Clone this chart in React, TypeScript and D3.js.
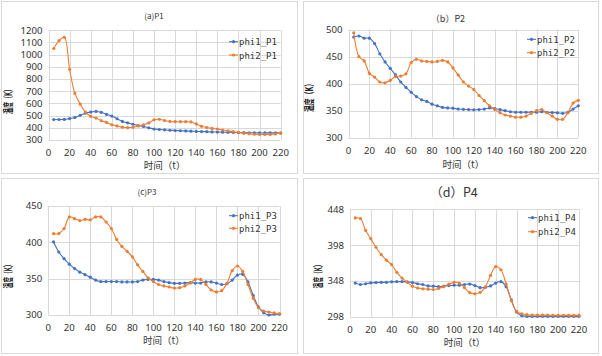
import React from "react";
import * as d3 from "d3";

const times = [5, 10, 15, 20, 25, 30, 35, 40, 45, 50, 55, 60, 65, 70, 75, 80, 85, 90, 95, 100, 105, 110, 115, 120, 125, 130, 135, 140, 145, 150, 155, 160, 165, 170, 175, 180, 185, 190, 195, 200, 205, 210, 215, 220];
const xTicks = [0, 20, 40, 60, 80, 100, 120, 140, 160, 180, 200, 220];

const p1Phi1 = [468, 468, 469, 476, 485, 502, 520, 529, 534, 527, 510, 496, 474, 452, 441, 429, 418, 411, 400, 390, 386, 383, 380, 378, 376, 374, 372, 370, 369, 368, 366, 365, 364, 363, 362, 361, 360, 359, 359, 358, 358, 358, 358, 357];
const p1Phi2 = [1050, 1115, 1142, 880, 682, 595, 528, 494, 480, 458, 444, 425, 415, 405, 402, 404, 415, 425, 440, 466, 470, 460, 452, 450, 450, 450, 448, 432, 412, 402, 395, 390, 382, 375, 368, 362, 355, 352, 347, 345, 345, 346, 350, 357];
const p1Ticks = [300, 400, 500, 600, 700, 800, 900, 1000, 1100, 1200];

const p2Phi1 = [486, 488, 484, 484, 474, 455, 440, 428, 416, 403, 393, 384, 376, 370, 367, 362, 359, 356, 355, 354.5, 353, 352.5, 352, 351.5, 352, 353, 355, 354, 352, 350, 348, 347, 347, 347, 347, 347, 348, 347, 346.5, 346, 345, 347, 353, 359];
const p2Phi2 = [494, 450, 442, 419, 412, 403, 401.5, 406, 413, 414, 418, 439, 445, 442, 441, 440, 441, 443, 440, 429, 416, 403, 395.5, 389, 378, 368.5, 359, 352, 346, 342, 340, 338, 338, 340, 345, 350, 352, 346, 340, 334, 334, 346, 364, 369];
const p2Ticks = [300, 350, 400, 450, 500];

const p3Phi1 = [400.5, 386.7, 377.5, 370, 364, 359, 355.5, 352, 348, 346, 346, 346, 346, 345.5, 345.5, 345.5, 346, 348, 349, 349, 348, 346, 344.5, 343.6, 343.6, 344, 344.5, 344, 344, 345.5, 345.5, 344, 342, 343, 348, 355, 356, 345.5, 327, 311, 303, 300, 301, 301];
const p3Phi2 = [412, 412, 419, 435, 432.6, 430, 431.6, 431, 435, 435, 428, 419, 404, 394.5, 387.6, 380, 369, 360, 351, 346, 342, 340, 338.5, 337, 337.6, 340, 344, 349, 349, 342, 334.4, 331.7, 333.5, 343.6, 361, 367.4, 360, 342, 323, 310, 305.5, 304, 302.8, 302];
const p3Ticks = [300, 350, 400, 450];

const p4Phi1 = [345, 343, 344, 345.3, 345.7, 346, 346, 346.7, 347, 347, 346.7, 345.7, 344, 343, 341, 340.6, 340, 340.6, 341.5, 342, 342, 343, 343.5, 341.5, 338.6, 339, 341, 345, 347, 340, 321.4, 304.6, 299.4, 298.5, 298.5, 298.5, 298.5, 298.5, 298.5, 298.5, 298.5, 298.5, 298.5, 298.5];
const p4Phi2 = [436, 435, 418.5, 407, 395, 384.7, 377, 370.7, 360, 352, 346, 340.6, 338, 337, 336.5, 336, 337.4, 340, 343.5, 346, 345, 338.6, 331.7, 330, 332, 339.7, 355.7, 368, 363.6, 343.5, 320.5, 305.5, 302, 300.8, 300.3, 300.3, 300.2, 300.2, 300, 300, 300, 299.8, 299.8, 299.8];
const p4Ticks = [298, 348, 398, 448];

const BLUE = "#4472C4";
const ORANGE = "#ED7D31";
const GRID = "#d9d9d9";
const TEXT = "#333333";
const CJK = "'Noto Sans CJK SC', 'Noto Sans', sans-serif";
const MONO = "'DejaVu Sans Mono', 'Liberation Mono', monospace";

type Panel = {
  box: [number, number, number, number];
  title: string;
  titleX: number;
  titleY: number;
  titleSize: number;
  plot: [number, number, number, number];
  yTicks: number[];
  s1: number[];
  s2: number[];
  n1: string;
  n2: string;
  legX: number;
  legY: [number, number];
  xLabY: number;
  xTitleY: number;
  yTitleX: number;
  yTitleY: number;
  yTitleLen: number;
};

const panels: Panel[] = [
  {
    box: [1.5, 1.5, 296, 172], title: "(a)P1", titleX: 154, titleY: 19, titleSize: 8,
    plot: [48.5, 280.7, 30.2, 140], yTicks: p1Ticks, s1: p1Phi1, s2: p1Phi2, n1: "phi1_P1", n2: "phi2_P1",
    legX: 229, legY: [41.7, 55], xLabY: 156, xTitleY: 169, yTitleX: 8.5, yTitleY: 100, yTitleLen: 28,
  },
  {
    box: [303.5, 1.5, 295, 172], title: "（b）P2", titleX: 448, titleY: 22, titleSize: 9,
    plot: [348.5, 578.3, 29.5, 137.7], yTicks: p2Ticks, s1: p2Phi1, s2: p2Phi2, n1: "phi1_P2", n2: "phi2_P2",
    legX: 527, legY: [39.3, 52.7], xLabY: 154, xTitleY: 167.5, yTitleX: 309, yTitleY: 96, yTitleLen: 32,
  },
  {
    box: [1.5, 178.5, 296, 175], title: "(c)P3", titleX: 147, titleY: 195, titleSize: 8,
    plot: [48.3, 279.5, 206, 315], yTicks: p3Ticks, s1: p3Phi1, s2: p3Phi2, n1: "phi1_P3", n2: "phi2_P3",
    legX: 229, legY: [215.7, 228.3], xLabY: 330.5, xTitleY: 344, yTitleX: 8.5, yTitleY: 275, yTitleLen: 27,
  },
  {
    box: [303.5, 178.5, 295, 175], title: "（d）P4", titleX: 454, titleY: 197, titleSize: 12.5,
    plot: [350, 579, 209.3, 316.7], yTicks: p4Ticks, s1: p4Phi1, s2: p4Phi2, n1: "phi1_P4", n2: "phi2_P4",
    legX: 528, legY: [217.7, 231.7], xLabY: 332.5, xTitleY: 345.5, yTitleX: 318.5, yTitleY: 275, yTitleLen: 27,
  },
];

function ChartPanel({ p }: { p: Panel }) {
  const [x0, x1, yT, yB] = p.plot;
  const x = d3.scaleLinear().domain([0, 220]).range([x0, x1]);
  const yMin = p.yTicks[0];
  const yMax = p.yTicks[p.yTicks.length - 1];
  const y = d3.scaleLinear().domain([yMin, yMax]).range([yB, yT]);
  const line = d3
    .line<number>()
    .x((_, i) => x(times[i]))
    .y((v) => y(v))
    .curve(d3.curveCatmullRom.alpha(0.5));
  const series = [
    { data: p.s1, color: BLUE, name: p.n1 },
    { data: p.s2, color: ORANGE, name: p.n2 },
  ];
  return (
    <g>
      <rect x={p.box[0]} y={p.box[1]} width={p.box[2]} height={p.box[3]} fill="#fff" stroke={GRID} strokeWidth={1} />
      <text x={p.titleX} y={p.titleY} textAnchor="middle" fontSize={p.titleSize} fontFamily={CJK} fill={TEXT}>
        {p.title}
      </text>
      {p.yTicks.map((t) => (
        <g key={"y" + t}>
          <line x1={x0} x2={x1} y1={Math.round(y(t)) + 0.5} y2={Math.round(y(t)) + 0.5} stroke={GRID} strokeWidth={1} />
          <text x={x0 - 6} y={y(t) + 3.4} textAnchor="end" fontSize={9.6} fontFamily="'Noto Sans', sans-serif" fill={TEXT}>
            {t}
          </text>
        </g>
      ))}
      {xTicks.map((t) => (
        <g key={"x" + t}>
          <line x1={Math.round(x(t)) + 0.5} x2={Math.round(x(t)) + 0.5} y1={yT} y2={yB} stroke={GRID} strokeWidth={1} />
          <text x={x(t)} y={p.xLabY} textAnchor="middle" fontSize={9.6} fontFamily="'Noto Sans', sans-serif" fill={TEXT}>
            {t}
          </text>
        </g>
      ))}
      <text x={(x0 + x1) / 2} y={p.xTitleY} textAnchor="middle" fontSize={9.5} fontFamily={CJK} fill={TEXT}>
        时间（t）
      </text>
      <text
        transform={`translate(${p.yTitleX + 3.8},${p.yTitleY}) rotate(-90)`}
        textAnchor="middle"
        fontSize={10.5}
        fontWeight={600}
        fontFamily={CJK}
        fill="#222"
        textLength={p.yTitleLen}
        lengthAdjust="spacingAndGlyphs"
      >
        温度（K）
      </text>
      {series.map((s) => (
        <g key={s.name}>
          <path d={line(s.data) || ""} fill="none" stroke={s.color} strokeWidth={1.1} />
          {s.data.map((v, i) => (
            <circle key={i} cx={x(times[i])} cy={y(v)} r={1.6} fill={s.color} />
          ))}
        </g>
      ))}
      {series.map((s, k) => (
        <g key={"leg" + k}>
          <line x1={p.legX} x2={p.legX + 9} y1={p.legY[k]} y2={p.legY[k]} stroke={s.color} strokeWidth={1.1} />
          <circle cx={p.legX + 4.5} cy={p.legY[k]} r={1.6} fill={s.color} />
          <text x={p.legX + 10} y={p.legY[k] + 3.5} fontSize={9} fontFamily={MONO} fill={TEXT}>
            {s.name}
          </text>
        </g>
      ))}
    </g>
  );
}

export default function App() {
  return (
    <svg
      width={602}
      height={356}
      style={{ position: "absolute", left: 0, top: 0, display: "block", background: "#fff" }}
    >
      <rect x={0} y={0} width={602} height={356} fill="#fff" />
      {panels.map((p, i) => (
        <ChartPanel key={i} p={p} />
      ))}
    </svg>
  );
}
